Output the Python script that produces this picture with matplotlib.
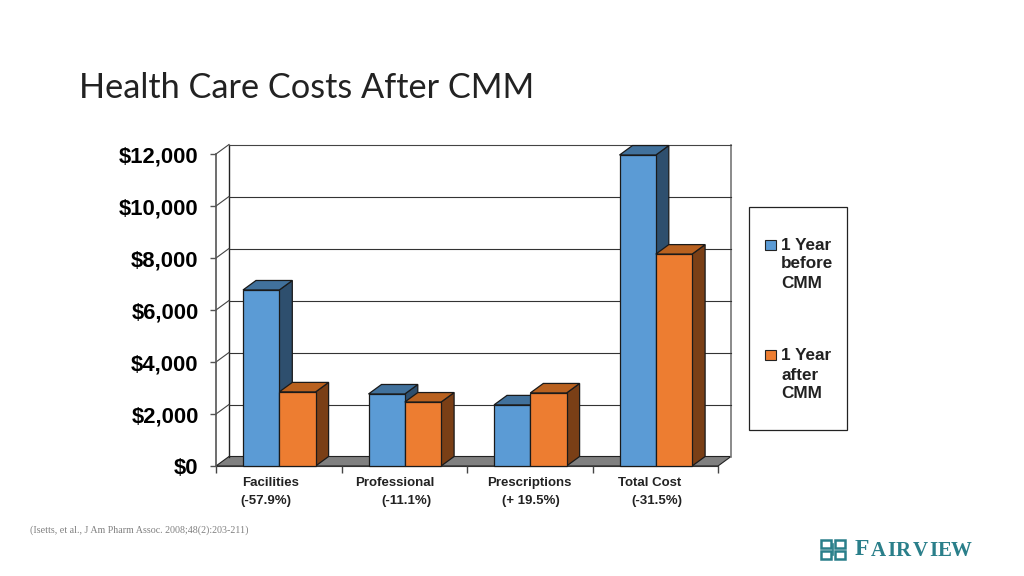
import matplotlib
matplotlib.use('Agg')
import matplotlib.pyplot as plt
from matplotlib.patches import Polygon, Rectangle

# valores
categorias = ['Facilities', 'Professional', 'Prescriptions', 'Total Cost']
cambios = ['(-57.9%)', '(-11.1%)', '(+ 19.5%)', '(-31.5%)']
antes = [6770, 2770, 2350, 11960]
despues = [2850, 2460, 2810, 8150]
y_ticks = [0, 2000, 4000, 6000, 8000, 10000, 12000]
y_labels = ['$0', '$2,000', '$4,000', '$6,000', '$8,000', '$10,000', '$12,000']

W, H = 1024, 576
AZUL = ('#5b9bd5', '#41719c', '#2e4f6e')
NARANJA = ('#ed7d31', '#b9611f', '#7a3f16')

fig = plt.figure(figsize=(W / 100, H / 100), dpi=100, facecolor='white')

# capa en pixeles para titulo, leyenda y logo
bg = fig.add_axes([0, 0, 1, 1])
bg.set_xlim(0, W)
bg.set_ylim(H, 0)
bg.axis('off')

# ejes del grafico: frente de x=216 a 718, y=466 a 154
x0, x1, y0, y1 = 216, 718, 466, 154
ax = fig.add_axes([x0 / W, 1 - y0 / H, (x1 - x0) / W, (y0 - y1) / H])
ax.set_xlim(0, 4)
ax.set_ylim(0, 12000)
ax.patch.set_visible(False)
for s in ['top', 'right', 'bottom']:
    ax.spines[s].set_visible(False)
ax.spines['left'].set_color('#555555')
ax.spines['left'].set_linewidth(1.2)

dx = 13 / ((x1 - x0) / 4)       # profundidad en unidades de categoria
dy = 9.5 / ((y0 - y1) / 12000)  # profundidad en unidades de valor

# pared del fondo, piso y lineas de division
ax.add_patch(Polygon([(0, 0), (dx, dy), (4 + dx, dy), (4, 0)], fc='#808080', ec='#222222', lw=0.8, clip_on=False, zorder=1))
ax.plot([dx, dx], [dy, 12000 + dy], color='#222222', lw=1, clip_on=False, zorder=1)
ax.plot([4 + dx, 4 + dx], [dy, 12000 + dy], color='#777777', lw=1.2, clip_on=False, zorder=1)
for v in y_ticks[1:]:
    ax.plot([dx, 4 + dx], [v + dy, v + dy], color='#333333' if v < 12000 else '#444444', lw=0.8, clip_on=False, zorder=1)
    ax.plot([0, dx], [v, v + dy], color='#444444', lw=0.8, clip_on=False, zorder=1)


def barra(x, ancho, valor, colores, z):
    ec = '#1a1a1a'
    ax.add_patch(Polygon([(x + ancho, 0), (x + ancho + dx, dy), (x + ancho + dx, valor + dy), (x + ancho, valor)],
                         fc=colores[2], ec=ec, lw=0.9, clip_on=False, zorder=z))
    ax.add_patch(Polygon([(x, valor), (x + dx, valor + dy), (x + ancho + dx, valor + dy), (x + ancho, valor)],
                         fc=colores[1], ec=ec, lw=0.9, clip_on=False, zorder=z))
    ax.add_patch(Rectangle((x, 0), ancho, valor, fc=colores[0], ec=ec, lw=0.9, clip_on=False, zorder=z + 0.1))


ancho = 36.3 / 125.5
inicio = 27 / 125.5
for i in range(4):
    barra(i + inicio, ancho, antes[i], AZUL, 2 + i)
    barra(i + inicio + ancho, ancho, despues[i], NARANJA, 2.5 + i)

ax.set_yticks(y_ticks)
ax.set_yticklabels(y_labels, fontfamily='Liberation Sans', fontweight='bold', fontsize=15.9, color='black')
ax.tick_params(axis='y', length=4, color='#555555', width=1, pad=8.5)
ax.set_xticks(range(5))
ax.set_xticklabels([])
ax.tick_params(axis='x', length=5, color='#444444', width=1)
ax.spines['bottom'].set_visible(True)
ax.spines['bottom'].set_color('#333333')
ax.spines['bottom'].set_zorder(1.5)

# etiquetas de categoria (desplazadas como en el original)
desp_cat = [-8, -9, 0, -6]
desp_cam = [-13, 2, 1, 2]
for i in range(4):
    ax.annotate(categorias[i], (i + 0.5, 0), xytext=(desp_cat[i] * 0.72, -17 * 0.72), textcoords='offset points',
                ha='center', va='center', fontfamily='Liberation Sans', fontweight='bold', fontsize=9.5, color='#222222', annotation_clip=False)
    ax.annotate(cambios[i], (i + 0.5, 0), xytext=(desp_cam[i] * 0.72, -35 * 0.72), textcoords='offset points',
                ha='center', va='center', fontfamily='Liberation Sans', fontweight='bold', fontsize=9.5, color='#222222', annotation_clip=False)

# titulo y cita
bg.text(79, 88, 'Health Care Costs After CMM', fontfamily='Lato', fontsize=24.7, color='#222222', va='center', ha='left')
bg.text(30, 530, '(Isetts, et al., J Am Pharm Assoc. 2008;48(2):203-211)', fontfamily='Liberation Serif', fontsize=7.2, color='#808080', va='center', ha='left')

# leyenda
bg.add_patch(Rectangle((749, 207), 98, 223, fc='white', ec='#222222', lw=0.9))
bg.add_patch(Rectangle((765, 240), 11, 10, fc=AZUL[0], ec='#222222', lw=0.8))
bg.add_patch(Rectangle((765, 350), 11, 10, fc=NARANJA[0], ec='#222222', lw=0.8))
for y, t in [(245, '1 Year'), (264, 'before'), (283, 'CMM'), (355, '1 Year'), (375, 'after'), (394, 'CMM')]:
    bg.text(781, y, t, fontfamily='Liberation Sans', fontweight='bold', fontsize=12.3, color='#222222', va='center', ha='left')

# logo
TEAL = '#2a7f8a'
for px, py in [(821, 540), (835, 540), (821, 551), (835, 551)]:
    bg.add_patch(Rectangle((px, py), 10, 7.5, fc='none', ec=TEAL, lw=1.8))
bg.plot([833, 833], [544, 555], color=TEAL, lw=1.2)
bg.text(855, 549.5, 'F', fontfamily='Liberation Serif', fontsize=17, color=TEAL, fontweight='bold', va='center', ha='left')
for lx, letra in zip([871, 887, 896, 913, 929, 938, 951], 'AIRVIEW'):
    bg.text(lx, 550.5, letra, fontfamily='Liberation Serif', fontsize=15, color=TEAL, fontweight='bold', va='center', ha='left')

fig.savefig('out.png', dpi=100)
